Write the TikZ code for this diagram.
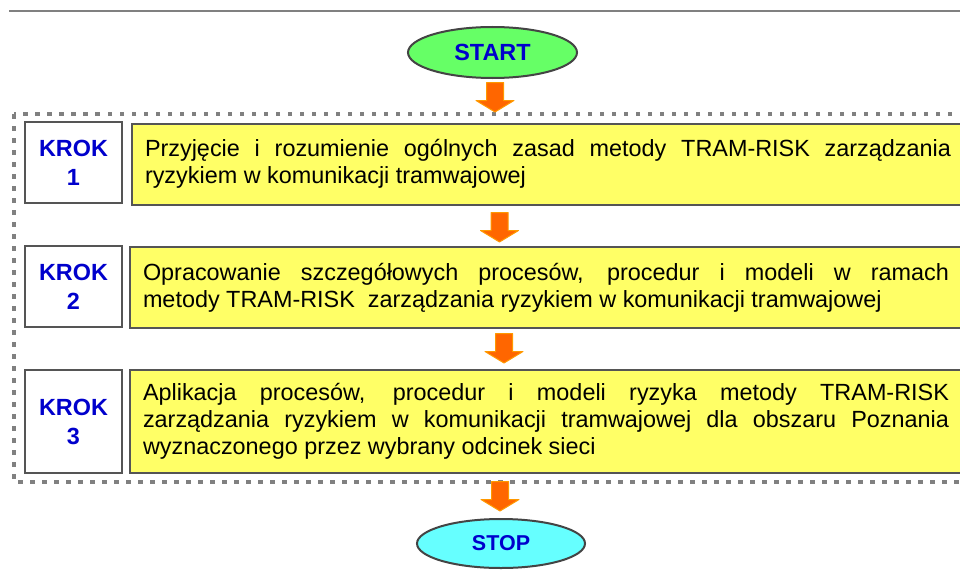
\documentclass[tikz,border=0pt]{standalone}
\usepackage{fontspec}
\setmainfont{Liberation Sans}
\usetikzlibrary{shapes.geometric}
\definecolor{boxyellow}{HTML}{FFFF66}
\definecolor{bordergray}{HTML}{555555}
\definecolor{framegray}{HTML}{808080}
\definecolor{krokblue}{HTML}{0000CC}
\definecolor{startgreen}{HTML}{66FF66}
\definecolor{stopcyan}{HTML}{66FFFF}
\definecolor{arroworange}{HTML}{FF6600}
\definecolor{arrowedge}{HTML}{FF9900}
\newcommand{\jline}[2][806pt]{\makebox[#1][s]{\spaceskip=0pt\xspaceskip=0pt\relax #2}}
\newcommand{\natspace}{\spaceskip=0pt\xspaceskip=0pt\relax}
\tikzset{
  blockarrow/.pic={\path[fill=arroworange, draw=arrowedge, line width=1pt, line join=round]
    (-8.5,-29.5) -- (8.5,-29.5) -- (8.5,-11.5) -- (19,-11.5) -- (0,0) -- (-19,-11.5) -- (-8.5,-11.5) -- cycle;}
}
\begin{document}
\begin{tikzpicture}[x=1pt,y=-1pt,
  frame/.style={draw=framegray, line width=4.5pt, dash pattern=on 4.5pt off 7.5pt},
  kroknode/.style={draw=bordergray, line width=2pt, fill=white, minimum width=97pt, inner sep=0pt,
    align=center, font=\fontsize{23.4}{29}\selectfont\bfseries, text=krokblue},
  textbox/.style={draw=bordergray, line width=2pt, fill=boxyellow, anchor=west, inner xsep=13pt,
    inner ysep=0pt, text width=806pt, align=left, font=\fontsize{23.4}{27}\selectfont},
  terminal/.style={ellipse, draw=bordergray!80!black, line width=2pt, inner sep=0pt,
    font=\bfseries, text=krokblue}
]
\useasboundingbox (0,0) rectangle (960,578);
\clip (0,0) rectangle (960,578);
\fill[white] (0,0) rectangle (960,578);
% top rule
\draw[framegray, line width=1.4pt] (9,11) -- (962,11);
% dotted frame
\draw[frame] (14,114) rectangle (985,482);
% start / stop
\node[terminal, fill=startgreen, minimum width=169pt, minimum height=51pt,
  font=\fontsize{23.4}{28}\selectfont\bfseries] (start) at (492.5,52.5) {START};
\node[terminal, fill=stopcyan, minimum width=168pt, minimum height=49pt,
  font=\fontsize{21.5}{26}\selectfont\bfseries] (stop) at (501,543.5) {STOP};
% steps
\node[kroknode, minimum height=81pt] (k1) at (73.5,162.5) {KROK\\1};
\node[kroknode, minimum height=81pt] (k2) at (73.5,286.5) {KROK\\2};
\node[kroknode, minimum height=103pt] (k3) at (73.5,421.5) {KROK\\3};
\node[textbox, minimum height=81pt] (t1) at (131,164)
  {\natspace\jline{Przyjęcie i rozumienie ogólnych zasad metody TRAM-RISK zarządzania}\\
   ryzykiem w komunikacji tramwajowej};
\node[textbox, minimum height=81pt] (t2) at (129,287.5)
  {\natspace\jline{Opracowanie szczegółowych procesów, procedur i modeli w ramach}\\
   metody TRAM-RISK\ \ zarządzania ryzykiem w komunikacji tramwajowej};
\node[textbox, minimum height=103pt] (t3) at (129,421.5)
  {\natspace\jline{Aplikacja procesów, procedur i modeli ryzyka metody TRAM-RISK}\\
   \jline{zarządzania ryzykiem w komunikacji tramwajowej dla obszaru Poznania}\\
   wyznaczonego przez wybrany odcinek sieci};
% arrows
\pic (a1) at (495,112) {blockarrow};
\pic (a2) at (499.5,242) {blockarrow};
\pic (a3) at (504,363) {blockarrow};
\pic (a4) at (500,511) {blockarrow};
\end{tikzpicture}
\end{document}
